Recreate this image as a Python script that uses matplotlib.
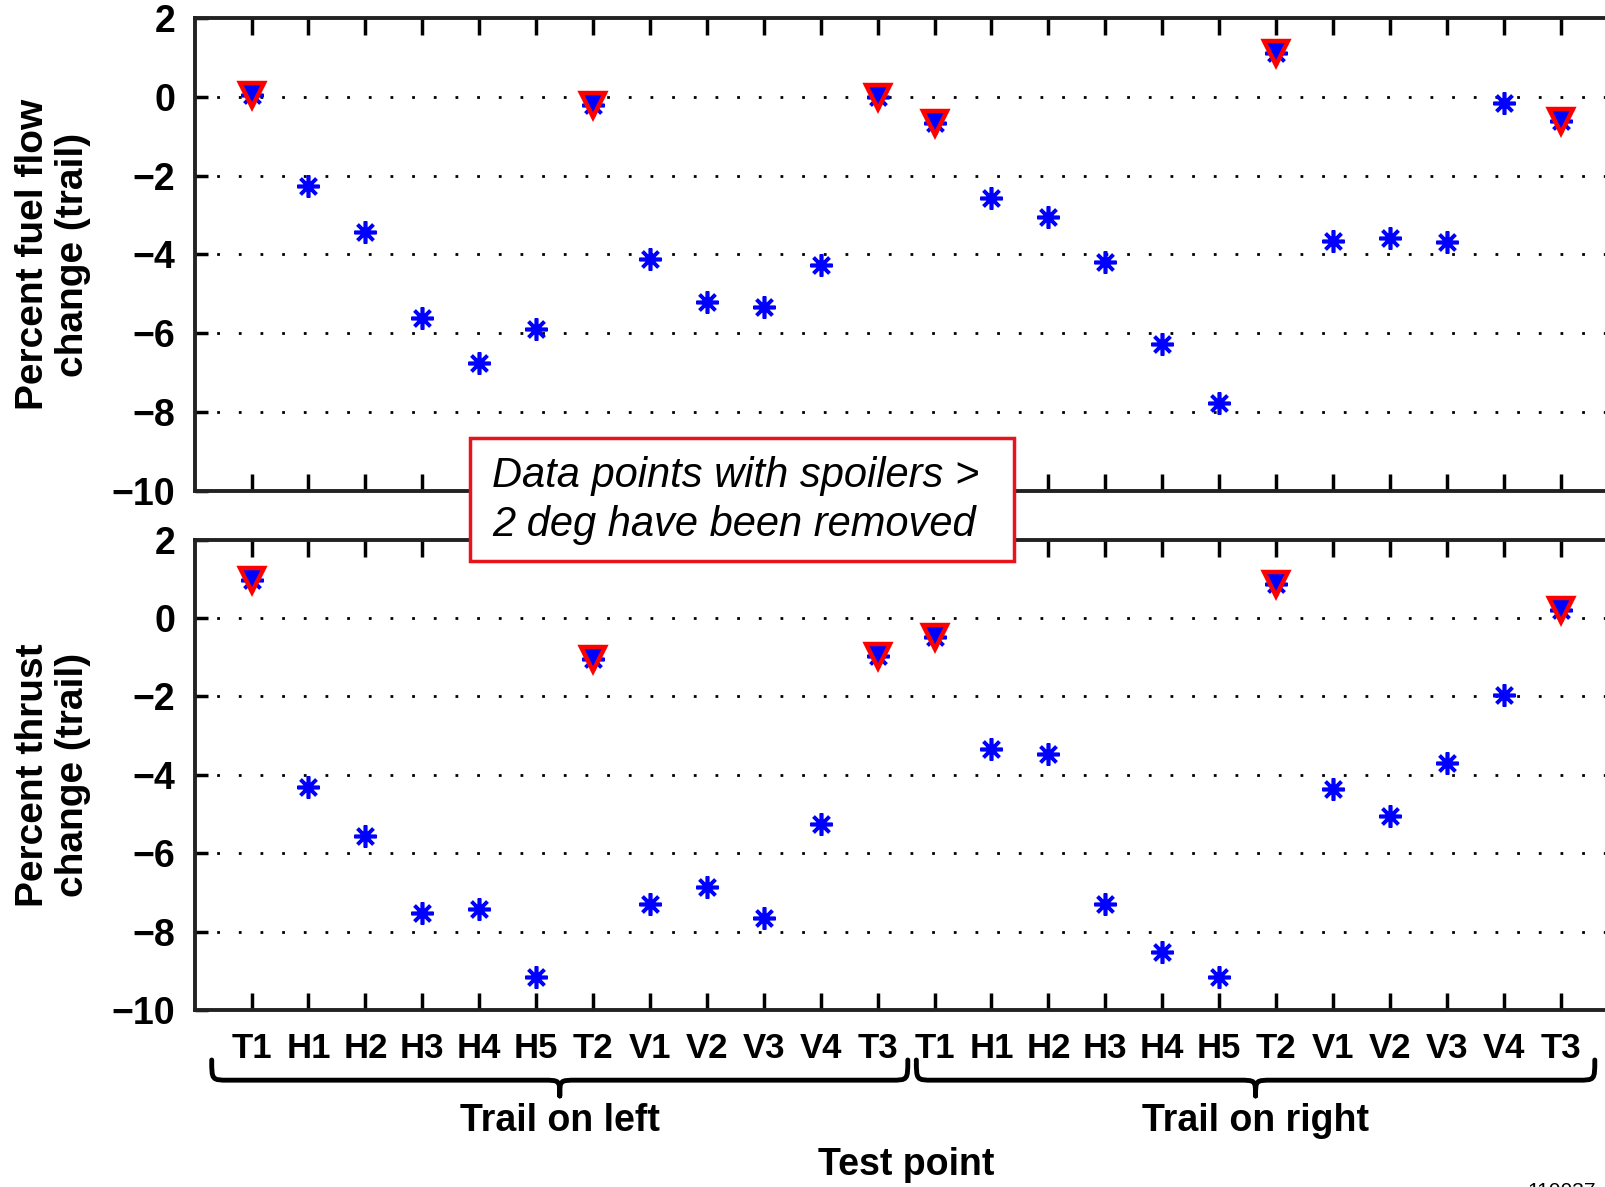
import matplotlib
matplotlib.use("Agg")
import matplotlib.pyplot as plt
from matplotlib.path import Path
from matplotlib.patches import PathPatch, Rectangle
from matplotlib import transforms

plt.rcParams['font.family'] = ['Liberation Sans', 'DejaVu Sans']

# test points, trail on left then trail on right
points = ['T1', 'H1', 'H2', 'H3', 'H4', 'H5', 'T2', 'V1', 'V2', 'V3', 'V4', 'T3'] * 2
is_trail = [1, 0, 0, 0, 0, 0, 1, 0, 0, 0, 0, 1] * 2

fuel_flow = [0.05, -2.27, -3.42, -5.61, -6.76, -5.9, -0.2, -4.12, -5.22, -5.33, -4.26, 0.0,
             -0.65, -2.56, -3.05, -4.18, -6.27, -7.78, 1.12, -3.66, -3.58, -3.68, -0.16, -0.6]
thrust = [0.96, -4.31, -5.56, -7.53, -7.43, -9.17, -1.04, -7.3, -6.86, -7.64, -5.25, -0.96,
          -0.47, -3.35, -3.48, -7.3, -8.52, -9.17, 0.88, -4.36, -5.06, -3.69, -1.95, 0.21]

ylabels = ['Percent fuel flow\nchange (trail)', 'Percent thrust\nchange (trail)']
group_names = ['Trail on left', 'Trail on right']
note = 'Data points with spoilers >\n2 deg have been removed'

x = list(range(1, len(points) + 1))
asterisk = (8, 2, 0)

fig = plt.figure(figsize=(16.06, 11.87), dpi=100)
ax1 = fig.add_axes([0.1212, 0.5867, 0.886, 0.3978])
ax2 = fig.add_axes([0.1212, 0.1491, 0.886, 0.3962])

for ax, vals, lab in [(ax1, fuel_flow, ylabels[0]), (ax2, thrust, ylabels[1])]:
    ax.set_xlim(0, 25)
    ax.set_ylim(-10, 2)
    ax.set_yticks([-10, -8, -6, -4, -2, 0, 2])
    ax.set_yticklabels(['\u221210', '\u22128', '\u22126', '\u22124', '\u22122', '0', '2'])
    ax.set_xticks(x)
    for yg in [-8, -6, -4, -2, 0]:
        ax.axhline(yg, color='black', lw=2, ls=(0, (1, 6.8)), zorder=1)
    ax.plot(x, vals, ls='none', marker=asterisk, ms=16, mew=2.6, color='blue', zorder=3)
    tx = [xi for xi, t in zip(x, is_trail) if t]
    tv = [v for v, t in zip(vals, is_trail) if t]
    ax.plot(tx, tv, ls='none', marker='v', ms=17, mew=3.2, mfc='blue', mec='red', zorder=4)
    ax.tick_params(axis='x', direction='in', top=True, length=12, width=2.5, pad=16)
    ax.tick_params(axis='y', direction='in', length=9, width=2.5, pad=14, labelsize=27)
    for lbl in ax.get_yticklabels():
        lbl.set_fontweight('bold')
    for sp in ax.spines.values():
        sp.set_linewidth(2.8)
        sp.set_color('#222222')
    ax.set_ylabel(lab, fontsize=28, fontweight='bold', linespacing=1.15)
    ax.yaxis.set_label_coords(-0.073, 0.5)

ax1.set_xticklabels([])
ax2.set_xticklabels(points, fontsize=25, fontweight='bold')
ax2.set_xlabel('Test point', fontsize=27, fontweight='bold', va='center')
ax2.xaxis.set_label_coords(0.5, -0.33)

# braces under the tick labels
tr = transforms.blended_transform_factory(ax2.transData, fig.transFigure)
y_top, y_mid, y_bot = 0.107, 0.090, 0.0767
for x0, x1, name in [(0.3, 12.53, group_names[0]), (12.68, 24.6, group_names[1])]:
    xm = (x0 + x1) / 2
    r = 0.3
    verts = [(x0, y_top), (x0, y_mid), (x0, y_mid), (x0 + r, y_mid),
             (xm - r, y_mid),
             (xm, y_mid), (xm, y_mid), (xm, y_bot),
             (xm, y_mid), (xm, y_mid), (xm + r, y_mid),
             (x1 - r, y_mid),
             (x1, y_mid), (x1, y_mid), (x1, y_top)]
    codes = [Path.MOVETO, Path.CURVE4, Path.CURVE4, Path.CURVE4,
             Path.LINETO,
             Path.CURVE4, Path.CURVE4, Path.CURVE4,
             Path.CURVE4, Path.CURVE4, Path.CURVE4,
             Path.LINETO,
             Path.CURVE4, Path.CURVE4, Path.CURVE4]
    patch = PathPatch(Path(verts, codes), transform=tr, fill=False, lw=3.5,
                      edgecolor='black', clip_on=False, capstyle='round', joinstyle='round')
    ax2.add_artist(patch)
    ax2.text(xm, 0.0555, name, transform=tr, ha='center', va='center',
             fontsize=27, fontweight='bold')

# note box over both panels
box = Rectangle((0.2927, 0.5274), 0.3387, 0.1036, transform=fig.transFigure,
                facecolor='white', edgecolor='#e8141c', lw=2.5, zorder=10)
fig.patches.append(box)
fig.text(0.3063, 0.5785, note, fontsize=30, style='italic', ha='left', va='center',
         linespacing=1.3, zorder=11)

fig.text(0.951, 0.004, '110037', fontsize=15, ha='left', va='top')

fig.savefig('out.png', dpi=100)
